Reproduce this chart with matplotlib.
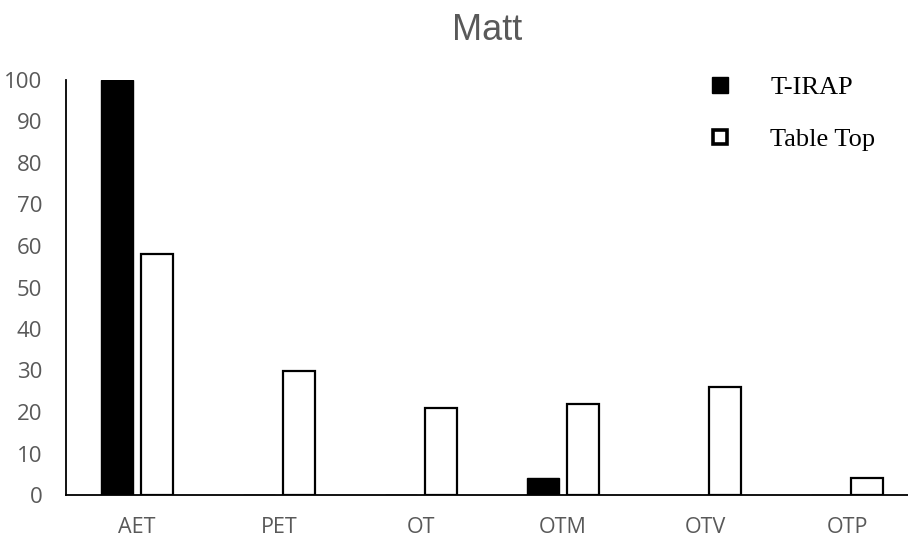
import matplotlib
matplotlib.use("Agg")
import matplotlib.pyplot as plt
from matplotlib.lines import Line2D
import numpy as np

categories = ["AET", "PET", "OT", "OTM", "OTV", "OTP"]
t_irap = [100, 0, 0, 4, 0, 0]
table_top = [58, 30, 21, 22, 26, 4]
series_names = ["T-IRAP", "Table Top"]
y_ticks = [0, 10, 20, 30, 40, 50, 60, 70, 80, 90, 100]

fig = plt.figure(figsize=(9.08, 5.38), dpi=100)
ax = fig.add_axes([66/908, 43/538, 1 - 66/908, (495-80)/538])

x = np.arange(len(categories))
w = 0.225
off = 0.143
ax.bar(x - off, t_irap, width=w, color="black", edgecolor="black", linewidth=1.0)
ax.bar(x + off, table_top, width=w, color="white", edgecolor="black", linewidth=1.6)

ax.set_xlim(-0.5, 5.43)
ax.set_ylim(0, 100)
ax.set_yticks(y_ticks)
ax.set_xticks(x)
ax.set_xticklabels(categories)
for s in ["top", "right"]:
    ax.spines[s].set_visible(False)
ax.spines["left"].set_linewidth(1.3)
ax.spines["bottom"].set_linewidth(1.3)
ax.tick_params(axis="both", length=0, colors="#595959")
ax.tick_params(axis="y", pad=17, labelsize=16)
ax.tick_params(axis="x", pad=15.5, labelsize=15.5)
for lab in ax.get_xticklabels() + ax.get_yticklabels():
    lab.set_fontfamily("Open Sans")
    lab.set_color("#595959")

fig.text(487/908, 1 - 30/538, "Matt", ha="center", va="center",
         fontsize=26, color="#595959", family="Liberation Sans")

handles = [
    Line2D([], [], marker="s", linestyle="None", markersize=11.5,
           markerfacecolor="black", markeredgecolor="black"),
    Line2D([], [], marker="s", linestyle="None", markersize=10.5,
           markerfacecolor="white", markeredgecolor="black", markeredgewidth=2.6),
]
fig.legend(handles, series_names, loc="upper left",
           bbox_to_anchor=(707/908, 1 - 76/538), frameon=False,
           borderpad=0, borderaxespad=0, handlelength=1.0, handletextpad=1.4,
           labelspacing=1.08,
           prop={"family": "Liberation Serif", "size": 19})

fig.savefig("out.png", dpi=100)
